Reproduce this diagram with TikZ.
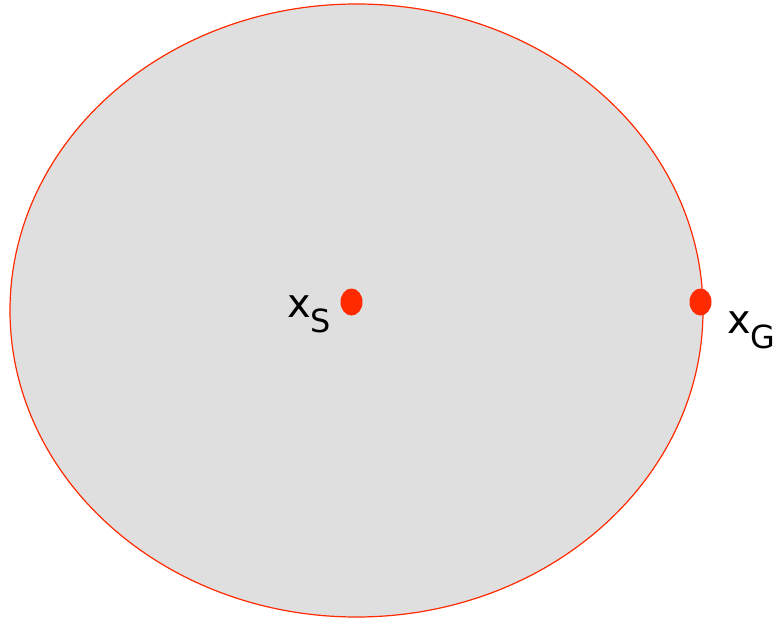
\documentclass[tikz,border=0pt]{standalone}
\usepackage{fontspec}
\setmainfont{DejaVu Sans}
\definecolor{regred}{RGB}{255,42,0}
\definecolor{regfill}{RGB}{223,223,223}
\tikzset{
  region/.style={draw=regred, fill=regfill, line width=1.2bp},
  pt/.style={fill=regred, draw=none},
  lbl/.style={anchor=base west, inner sep=0pt, font=\fontsize{40}{48}\selectfont},
}
\newcommand{\subl}[1]{\raisebox{-0.38em}{\fontsize{32}{38}\selectfont #1}}
\begin{document}
\begin{tikzpicture}[x=1bp,y=-1bp]
\useasboundingbox (0,0) rectangle (776,619);
\draw[region] (356.5,310.5) ellipse [x radius=346.5, y radius=306.5];
\fill[pt] (351.5,302) ellipse [x radius=11, y radius=13.5];
\fill[pt] (700.5,302) ellipse [x radius=11, y radius=13.5];
\node[lbl] (xs) at (287,317) {x\subl{S}};
\node[lbl] (xg) at (727,333) {x\subl{G}};
\end{tikzpicture}
\end{document}
